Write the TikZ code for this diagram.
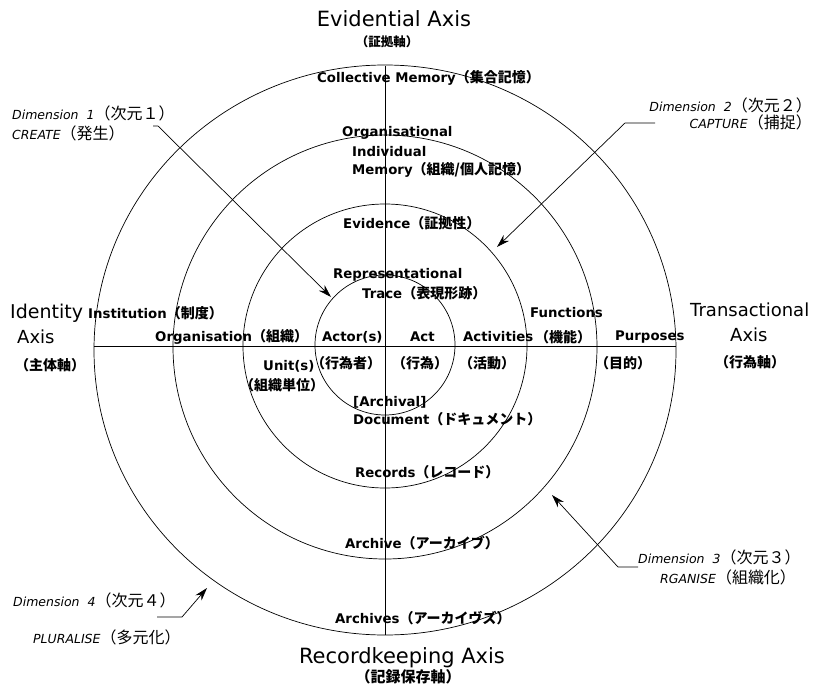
\documentclass[tikz,border=0pt]{standalone}
\usepackage{fontspec}
\setmainfont{DejaVu Sans}
\newfontfamily\jp{Noto Sans CJK JP}
\usetikzlibrary{arrows.meta}
\newcommand\J[1]{{\jp\fontsize{14}{16}\selectfont #1}}
\newcommand\Jd[1]{{\jp\fontsize{16}{18}\selectfont #1}}
\begin{document}
\begin{tikzpicture}[x=1pt,y=-1pt,
  lab/.style={font=\bfseries\fontsize{13.3}{15}\selectfont, inner sep=0pt, anchor=west},
  dim/.style={font=\itshape\fontsize{12.5}{14}\selectfont, inner sep=0pt, anchor=west},
  big/.style={font=\fontsize{21}{24}\selectfont, inner sep=0pt},
  side/.style={font=\fontsize{18}{20}\selectfont, inner sep=0pt, anchor=west},
  jcap/.style={font=\bfseries\jp\fontsize{14}{16}\selectfont, inner sep=0pt, anchor=west},
  ring/.style={line width=0.7pt},
  dimarrow/.style={line width=0.7pt, -{Stealth[length=13pt,width=8pt]}}]
\useasboundingbox (0,0) rectangle (822,688);

% rings
\draw[ring] (385,350) ellipse [x radius=291pt, y radius=285pt];
\draw[ring] (385,347) circle [radius=212pt];
\draw[ring] (385,346) circle [radius=142pt];
\draw[ring] (385,345) circle [radius=70pt];

% axes
\coordinate (vtop) at (385,66);
\coordinate (vbot) at (385,635);
\coordinate (hleft) at (94,346);
\coordinate (hright) at (676,346);
\draw[line width=0.7pt] (vtop) -- (vbot);
\draw[line width=0.7pt] (hleft) -- (hright);

% axis titles
\node[big] (evid) at (394,19) {Evidential Axis};
\node[jcap, anchor=center, font=\bfseries\jp\fontsize{12.5}{14}\selectfont] (evidj) at (387,42) {（証拠軸）};
\node[big] (reck) at (402,658) {Recordkeeping Axis};
\node[jcap, anchor=center, font=\bfseries\jp\fontsize{15}{17}\selectfont] (reckj) at (408,677) {（記録保存軸）};
\node[side, font=\fontsize{19}{21}\selectfont] (ident) at (10,313) {Identity};
\node[side] (identax) at (17,337) {Axis};
\node[jcap] (identj) at (15,365) {（主体軸）};
\node[side] (trans) at (690,310) {Transactional};
\node[side] (transax) at (730,335) {Axis};
\node[jcap] (transj) at (715,362) {（行為軸）};

% ring labels
\node[lab] (coll) at (317,78) {Collective Memory\J{（集合記憶）}};
\node[lab] (orgm1) at (342,133) {Organisational};
\node[lab] (orgm2) at (352,152) {Individual};
\node[lab] (orgm3) at (352,170) {Memory\J{（組織/個人記憶）}};
\node[lab] (evidence) at (343,223) {Evidence\J{（証拠性）}};
\node[lab] (rep1) at (333,275) {Representational};
\node[lab] (rep2) at (362,293) {Trace\J{（表現形跡）}};

\node[lab] (inst) at (88,313) {Institution\J{（制度）}};
\node[lab] (organ) at (155,337) {Organisation\J{（組織）}};
\node[lab] (actor) at (322,337) {Actor(s)};
\node[lab] (act) at (410,337) {Act};
\node[lab] (activ) at (463,337) {Activities};
\node[jcap] (funcj) at (535,337) {（機能）};
\node[lab] (func) at (530,313) {Functions};
\node[lab] (purp) at (615,337) {Purposes};
\node[jcap] (purpj) at (595,363) {（目的）};

\node[lab] (unit) at (263,366) {Unit(s)};
\node[jcap] (actorj) at (311,363) {（行為者）};
\node[jcap] (unitj) at (240,385) {（組織単位）};
\node[jcap] (actj) at (392,363) {（行為）};
\node[jcap] (activj) at (459,363) {（活動）};

\node[lab] (arch1) at (353,402) {[Archival]};
\node[lab] (doc) at (353,419) {Document\J{（ドキュメント）}};
\node[lab] (rec) at (355,472) {Records\J{（レコード）}};
\node[lab] (archive) at (345,543) {Archive\J{（アーカイブ）}};
\node[lab] (archives) at (335,618) {Archives\J{（アーカイヴズ）}};

% dimension labels
\node[dim] (d1a) at (12,113) {Dimension\ \ 1\Jd{（次元１）}};
\node[dim] (d1b) at (12,133) {CREATE\Jd{（発生）}};
\node[dim, anchor=east] (d2a) at (812,105) {Dimension\ \ 2\Jd{（次元２）}};
\node[dim, anchor=east] (d2b) at (812,122) {CAPTURE\Jd{（捕捉）}};
\node[dim] (d3a) at (638,557) {Dimension\ \ 3\Jd{（次元３）}};
\node[dim] (d3b) at (660,577) {RGANISE\Jd{（組織化）}};
\node[dim] (d4a) at (13,600) {Dimension\ \ 4\Jd{（次元４）}};
\node[dim] (d4b) at (33,637) {PLURALISE\Jd{（多元化）}};

% dimension arrows
\coordinate (a1s) at (153,126);
\coordinate (a1k) at (158,126);
\coordinate (a1e) at (331,297);
\coordinate (a2s) at (655,123);
\coordinate (a2k) at (625,123);
\coordinate (a2e) at (497,247);
\coordinate (a3s) at (638,567);
\coordinate (a3k) at (618,567);
\coordinate (a3e) at (552,495);
\coordinate (a4s) at (157,617);
\coordinate (a4k) at (182,617);
\coordinate (a4e) at (207,588);
\draw[dimarrow] (a1s) -- (a1k) -- (a1e);
\draw[dimarrow] (a2s) -- (a2k) -- (a2e);
\draw[dimarrow] (a3s) -- (a3k) -- (a3e);
\draw[dimarrow] (a4s) -- (a4k) -- (a4e);
\end{tikzpicture}
\end{document}
